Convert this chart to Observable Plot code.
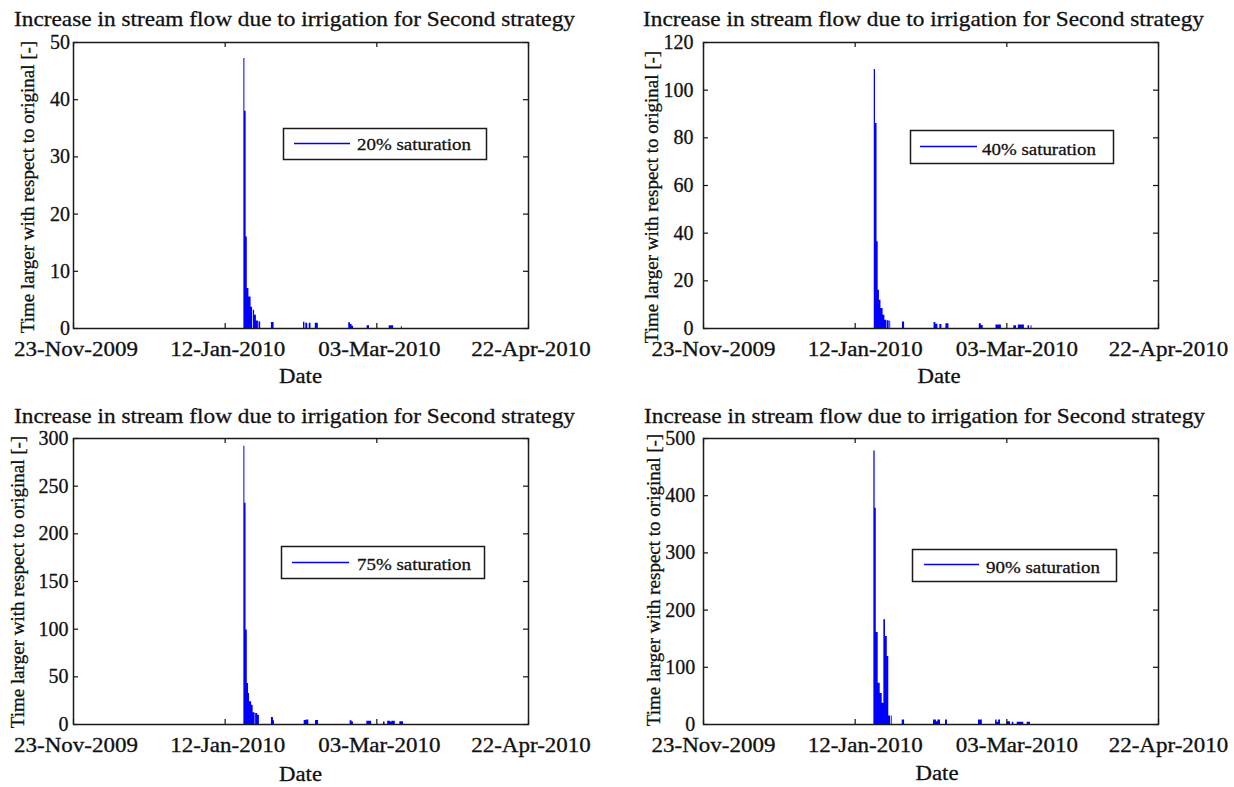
<!DOCTYPE html>
<html>
<head>
<meta charset="utf-8">
<script src="https://cdn.jsdelivr.net/npm/d3@7"></script>
<script src="https://cdn.jsdelivr.net/npm/@observablehq/plot@0.6"></script>
<style>
html, body { margin: 0; padding: 0; background: #ffffff; }
#root { position: relative; width: 1234px; height: 787px; overflow: hidden; background: #ffffff; font-family: 'Liberation Serif'; }
#root svg { position: absolute; overflow: visible; }
#root svg text { font-family: 'Liberation Serif'; stroke: #111111; stroke-width: 0.3px; }
</style>
</head>
<body>
<div id="root"></div>
<script>
// ---------------- data ----------------
const titleText = "Increase in stream flow due to irrigation for Second strategy";
const xLabelText = "Date";
const yLabelText = "Time larger with respect to original [-]";
const xTickDates = ["2009-11-23", "2010-01-12", "2010-03-03", "2010-04-22"];

const legend20 = "20% saturation";
const legend40 = "40% saturation";
const legend75 = "75% saturation";
const legend90 = "90% saturation";

const yTicks20 = [0, 10, 20, 30, 40, 50];
const yTicks40 = [0, 20, 40, 60, 80, 100, 120];
const yTicks75 = [0, 50, 100, 150, 200, 250, 300];
const yTicks90 = [0, 100, 200, 300, 400, 500];

const times20 = ["2010-01-18 04:00","2010-01-18 12:00","2010-01-18 22:00","2010-01-19 07:00","2010-01-19 20:00","2010-01-20 13:00","2010-01-21 01:00","2010-01-21 07:00","2010-01-21 17:00","2010-01-22 07:00","2010-01-22 23:00","2010-01-23 04:00","2010-01-23 17:00","2010-01-27 06:00","2010-01-28 03:00","2010-02-06 20:00","2010-02-07 07:00","2010-02-07 14:00","2010-02-08 05:00","2010-02-08 17:00","2010-02-09 07:00","2010-02-10 17:00","2010-02-11 17:00","2010-02-21 18:00","2010-02-22 08:00","2010-02-22 20:00","2010-02-23 08:00","2010-02-27 19:00","2010-02-28 14:00","2010-03-07 02:00","2010-03-08 13:00","2010-03-11 02:00","2010-03-11 10:00"];
const flow20 = [47.2,38.0,16.0,7.0,5.5,3.7,0,3.2,2.3,1.3,0,1.2,0,1.05,0,1.1,0,0.9,0,0.9,0,0.9,0,1.0,0.7,0.4,0,0.5,0,0.5,0,0.3,0];

const times40 = ["2010-01-18 07:00","2010-01-18 17:00","2010-01-19 05:00","2010-01-19 14:00","2010-01-20 00:00","2010-01-20 12:00","2010-01-21 05:00","2010-01-21 19:00","2010-01-22 10:00","2010-01-22 14:00","2010-01-23 05:00","2010-01-23 10:00","2010-01-23 17:00","2010-01-27 14:00","2010-01-28 07:00","2010-02-07 00:00","2010-02-07 14:00","2010-02-08 07:00","2010-02-08 22:00","2010-02-09 14:00","2010-02-10 22:00","2010-02-11 22:00","2010-02-21 22:00","2010-02-22 14:00","2010-02-23 05:00","2010-02-27 10:00","2010-03-01 05:00","2010-03-05 07:00","2010-03-06 05:00","2010-03-06 19:00","2010-03-08 19:00","2010-03-10 00:00","2010-03-10 12:00","2010-03-11 00:00","2010-03-11 07:00"];
const flow40 = [108.7,86,36.4,16.1,11.9,8.4,5.6,3.5,0,3.2,0,3.0,0,2.7,0,2.5,1.8,0,1.7,0,2.0,0,2.0,1.3,0,1.5,0,1.2,0,1.5,0,1.2,0,1.2,0];

const times75 = ["2010-01-18 04:00","2010-01-18 12:00","2010-01-18 21:00","2010-01-19 07:00","2010-01-19 17:00","2010-01-20 01:00","2010-01-20 17:00","2010-01-21 05:00","2010-01-21 21:00","2010-01-22 01:00","2010-01-22 17:00","2010-01-23 07:00","2010-01-27 06:00","2010-01-27 22:00","2010-01-28 06:00","2010-02-07 01:00","2010-02-07 18:00","2010-02-08 14:00","2010-02-10 19:00","2010-02-11 19:00","2010-02-22 05:00","2010-02-22 20:00","2010-02-23 07:00","2010-02-27 17:00","2010-03-01 07:00","2010-03-05 05:00","2010-03-05 17:00","2010-03-06 14:00","2010-03-07 12:00","2010-03-08 00:00","2010-03-09 02:00","2010-03-10 14:00","2010-03-11 19:00"];
const flow75 = [292,232,99,43,32.6,23.8,20.3,12.3,0,11.6,9.8,0,7.4,4,0,4.2,4.6,0,4.2,0,4.0,2.5,0,3.5,0,2.5,0,3.5,2.5,3.5,0,3,0];

const times90 = ["2010-01-18 04:00","2010-01-18 14:00","2010-01-18 23:00","2010-01-19 14:00","2010-01-20 06:00","2010-01-20 22:00","2010-01-21 11:00","2010-01-22 00:00","2010-01-22 14:00","2010-01-23 02:00","2010-01-23 16:00","2010-01-23 22:00","2010-01-24 05:00","2010-01-27 12:00","2010-01-28 07:00","2010-02-06 20:00","2010-02-07 19:00","2010-02-08 07:00","2010-02-09 03:00","2010-02-10 19:00","2010-02-11 10:00","2010-02-21 16:00","2010-02-22 22:00","2010-02-27 07:00","2010-02-27 19:00","2010-02-28 07:00","2010-02-28 22:00","2010-03-03 03:00","2010-03-04 05:00","2010-03-04 19:00","2010-03-05 07:00","2010-03-06 10:00","2010-03-08 14:00","2010-03-09 17:00","2010-03-10 19:00"];
const flow90 = [478,378,161,72,54,37,183,154,119,15,0,15,0,8,0,8,5,8,0,8,0,8,0,8,4,8,0,5,0,4,0,4,0,4,0];

// ---------------- layout ----------------
const BW = 455, BH = 286;
const M = {l: 70, r: 50, t: 20, b: 45};
const FONT = "Liberation Serif";
const INK = "#111111";
const BLUE = "#0000ff";

const panels = [
  {times: times20, values: flow20, yTicks: yTicks20, legend: legend20,
   box: [73, 42], yPad: 3.5, dx: 2.5,
   title: [14, 26], date: [300.5, 383], ylab: [28, 187],
   leg: {x1: 283, y1: 128, x2: 486, y2: 159, lx1: 294, lx2: 350, ly: 143, tx: 357, ty: 150}},
  {times: times40, values: flow40, yTicks: yTicks40, legend: legend40,
   box: [703, 42], yPad: 10, dx: 10,
   title: [643, 26], date: [939, 383], ylab: [651.5, 197],
   leg: {x1: 910, y1: 130, x2: 1113, y2: 163, lx1: 920, lx2: 977, ly: 146, tx: 982, ty: 155}},
  {times: times75, values: flow75, yTicks: yTicks75, legend: legend75,
   box: [73, 438], yPad: 5, dx: 2.5,
   title: [14, 423], date: [300.5, 781], ylab: [18, 582],
   leg: {x1: 281, y1: 546, x2: 484, y2: 578, lx1: 292, lx2: 349, ly: 562, tx: 357, ty: 570}},
  {times: times90, values: flow90, yTicks: yTicks90, legend: legend90,
   box: [703, 438], yPad: 8.3, dx: 10,
   title: [644, 423], date: [937, 780], ylab: [654, 580],
   leg: {x1: 912, y1: 549, x2: 1116, y2: 581, lx1: 924, lx2: 979, ly: 564, tx: 986, ty: 573}}
];

const parseT = d3.utcParse("%Y-%m-%d %H:%M");
const parseD = d3.utcParse("%Y-%m-%d");
const fmt = d3.utcFormat("%d-%b-%Y");
const xTicks = xTickDates.map(parseD);

const root = document.getElementById("root");

panels.forEach(p => {
  const data = p.times.map((t, i) => ({t: parseT(t), v: p.values[i]}));
  const yMin = p.yTicks[0], yMax = p.yTicks[p.yTicks.length - 1];
  const chart = Plot.plot({
    width: BW + M.l + M.r,
    height: BH + M.t + M.b,
    marginLeft: M.l, marginRight: M.r, marginTop: M.t, marginBottom: M.b,
    style: {fontFamily: FONT, fontSize: "20px", color: INK, background: "transparent", overflow: "visible"},
    x: {type: "utc", domain: [xTicks[0], xTicks[xTicks.length - 1]], ticks: xTicks, tickFormat: fmt, label: null},
    y: {domain: [yMin, yMax], ticks: p.yTicks, label: null},
    marks: [
      Plot.areaY(data, {x: "t", y: "v", curve: "step-after", fill: BLUE}),
      Plot.axisX(xTicks, {tickSize: 0, tickPadding: 13, tickFormat: fmt, dx: p.dx, label: null, fontFamily: FONT}),
      Plot.axisY(p.yTicks, {tickSize: 0, tickPadding: p.yPad, label: null, fontFamily: FONT}),
      Plot.tickX(xTicks, {x: d => d, insetTop: BH - 5, stroke: INK, strokeWidth: 1.2}),
      Plot.tickX(xTicks, {x: d => d, insetBottom: BH - 5, stroke: INK, strokeWidth: 1.2}),
      Plot.tickY(p.yTicks, {y: d => d, insetRight: BW - 5, stroke: INK, strokeWidth: 1.2}),
      Plot.tickY(p.yTicks, {y: d => d, insetLeft: BW - 5, stroke: INK, strokeWidth: 1.2}),
      Plot.frame({stroke: "#1a1a1a", strokeWidth: 1.5})
    ]
  });
  chart.setAttribute("font-family", FONT);
  chart.style.left = (p.box[0] - M.l) + "px";
  chart.style.top = (p.box[1] - M.t) + "px";
  root.appendChild(chart);
  d3.select(chart).selectAll("text").attr("font-family", FONT);
  // widen the date tick labels a little, as in the exported figure
  d3.select(chart).selectAll('g[aria-label="x-axis tick label"] text').each(function () {
    const L = this.getComputedTextLength();
    if (L > 0) {
      this.setAttribute("textLength", (L * 1.15).toFixed(1));
      this.setAttribute("lengthAdjust", "spacingAndGlyphs");
    }
  });
});

// ---------------- titles, axis labels, legends ----------------
const overlay = d3.create("svg")
  .attr("width", 1234).attr("height", 787)
  .attr("font-family", FONT)
  .style("left", "0px").style("top", "0px")
  .style("pointer-events", "none");

panels.forEach(p => {
  overlay.append("text")
    .attr("x", p.title[0]).attr("y", p.title[1])
    .attr("font-family", FONT)
    .attr("font-size", 22).attr("fill", INK)
    .attr("textLength", 561).attr("lengthAdjust", "spacingAndGlyphs")
    .text(titleText);

  overlay.append("text")
    .attr("x", p.date[0]).attr("y", p.date[1])
    .attr("text-anchor", "middle")
    .attr("font-family", FONT)
    .attr("font-size", 20.5).attr("fill", INK)
    .attr("textLength", 43).attr("lengthAdjust", "spacingAndGlyphs")
    .text(xLabelText);

  overlay.append("text")
    .attr("transform", `translate(${p.ylab[0]},${p.ylab[1]}) rotate(-90)`)
    .attr("text-anchor", "middle").attr("dy", "0.32em")
    .attr("font-family", FONT)
    .attr("font-size", 19).attr("fill", INK)
    .text(yLabelText);

  const g = p.leg;
  overlay.append("rect")
    .attr("x", g.x1 + 0.5).attr("y", g.y1 + 0.5)
    .attr("width", g.x2 - g.x1).attr("height", g.y2 - g.y1)
    .attr("fill", "#ffffff").attr("stroke", "#1a1a1a").attr("stroke-width", 1.5);
  overlay.append("line")
    .attr("x1", g.lx1).attr("x2", g.lx2).attr("y1", g.ly + 0.5).attr("y2", g.ly + 0.5)
    .attr("stroke", BLUE).attr("stroke-width", 1.5);
  overlay.append("text")
    .attr("x", g.tx).attr("y", g.ty)
    .attr("font-family", FONT)
    .attr("font-size", 17.5).attr("fill", INK)
    .attr("textLength", 114).attr("lengthAdjust", "spacingAndGlyphs")
    .text(p.legend);
});

root.appendChild(overlay.node());
</script>
</body>
</html>
